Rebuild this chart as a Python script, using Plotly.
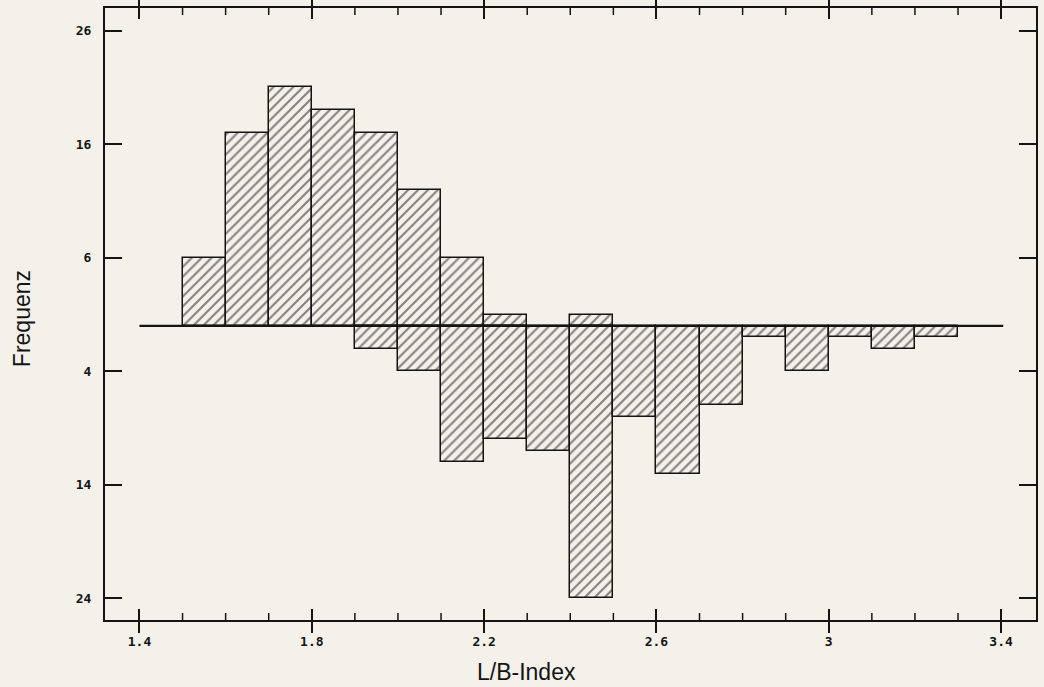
import plotly.graph_objects as go

# Data
bin_start = [1.5, 1.6, 1.7, 1.8, 1.9, 2.0, 2.1, 2.2, 2.3, 2.4, 2.5, 2.6, 2.7, 2.8, 2.9, 3.0, 3.1, 3.2]
upper = [6, 17, 21, 19, 17, 12, 6, 1, 0, 1, 0, 0, 0, 0, 0, 0, 0, 0]
lower = [0, 0, 0, 0, 2, 4, 12, 10, 11, 24, 8, 13, 7, 1, 4, 1, 2, 1]
bin_width = 0.1

x_major = [1.4, 1.8, 2.2, 2.6, 3.0, 3.4]
x_major_text = ["1.4", "1.8", "2.2", "2.6", "3", "3.4"]
x_minor = [1.5, 1.6, 1.7, 1.9, 2.0, 2.1, 2.3, 2.4, 2.5, 2.7, 2.8, 2.9, 3.1, 3.2, 3.3]
y_ticks = [26, 16, 6, -4, -14, -24]
y_ticktext = ["26", "16", "6", "4", "14", "24"]

PAPER = "#f3f1ea"
INK = "#141414"
X_RANGE = [1.32, 3.481]
Y_RANGE = [-25.9, 28.0]
PLOT_H = 614
MINOR_LEN = 7

def bars(vals, sign):
    xs, ys = [], []
    for s, v in zip(bin_start, vals):
        if v:
            xs.append(s + bin_width / 2)
            ys.append(sign * v)
    return xs, ys

fig = go.Figure()
for vals, sign in ((upper, 1), (lower, -1)):
    xs, ys = bars(vals, sign)
    fig.add_trace(go.Bar(
        x=xs, y=ys, width=bin_width,
        marker=dict(color=PAPER,
                    line=dict(color=INK, width=1.5),
                    pattern=dict(shape="/", fgcolor=INK, bgcolor=PAPER,
                                 size=7, solidity=0.3, fillmode="overlay")),
        showlegend=False, hoverinfo="skip"))

# minor tick marks, drawn as short segments on a pixel-scaled overlay y-axis
tx, ty = [], []
for v in x_minor:
    tx += [v, v, None, v, v, None]
    ty += [0, MINOR_LEN, None, PLOT_H, PLOT_H - MINOR_LEN, None]
fig.add_trace(go.Scatter(x=tx, y=ty, yaxis="y2", mode="lines",
                         line=dict(color=INK, width=1.5),
                         showlegend=False, hoverinfo="skip", cliponaxis=False))

# zero line
fig.add_shape(type="line", xref="x", yref="y", x0=1.4, x1=3.405, y0=0, y1=0,
              line=dict(color=INK, width=2.2))

fig.update_layout(
    width=1044, height=687,
    margin=dict(l=105, r=6, t=6, b=67),
    paper_bgcolor=PAPER, plot_bgcolor=PAPER,
    barmode="overlay", bargap=0,
    font=dict(family="DejaVu Sans Mono", color=INK),
    xaxis=dict(
        range=X_RANGE, tickvals=x_major, ticktext=x_major_text,
        ticks="inside", ticklen=11, tickwidth=1.5, tickcolor=INK,
        showline=True, linecolor=INK, linewidth=2, mirror="allticks",
        showgrid=False, zeroline=False,
        tickfont=dict(family="DejaVu Sans Mono", size=13, color=INK, weight="bold"),
        ticklabelstandoff=8,
    ),
    yaxis=dict(
        range=Y_RANGE, tickvals=y_ticks, ticktext=y_ticktext,
        ticks="inside", ticklen=17, tickwidth=1.5, tickcolor=INK,
        showline=True, linecolor=INK, linewidth=2, mirror="allticks",
        showgrid=False, zeroline=False,
        tickfont=dict(family="DejaVu Sans Mono", size=13, color=INK, weight="bold"),
        ticklabelstandoff=9,
    ),
    yaxis2=dict(overlaying="y", range=[0, PLOT_H], visible=False,
                showgrid=False, zeroline=False),
)

fig.add_annotation(text="Frequenz", xref="paper", yref="paper",
                   x=(22 - 105) / 933, y=(620 - 318) / 614, textangle=-90,
                   showarrow=False, xanchor="center", yanchor="middle",
                   font=dict(family="Liberation Sans", size=23, color=INK))
fig.add_annotation(text="L/B-Index", xref="paper", yref="paper",
                   x=(527 - 105) / 933, y=-(672 - 620) / 614,
                   showarrow=False, xanchor="center", yanchor="middle",
                   font=dict(family="Liberation Sans", size=23, color=INK))

fig.write_html("out.html")
